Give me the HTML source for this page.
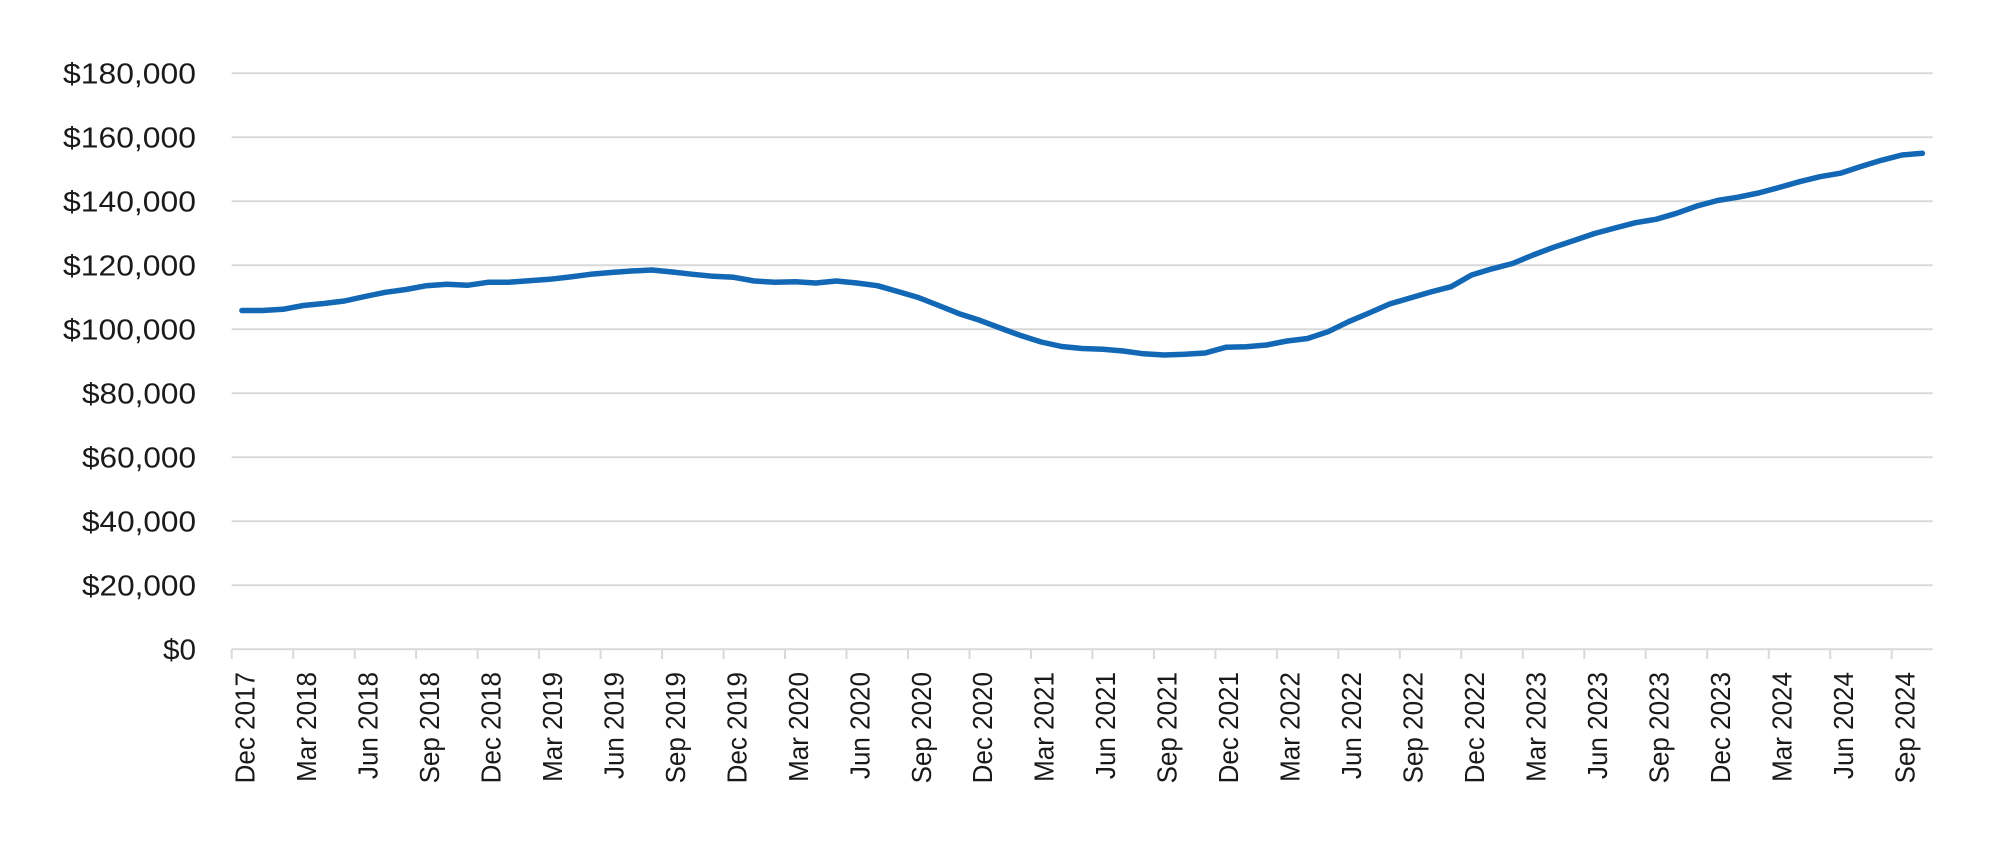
<!DOCTYPE html>
<html>
<head>
<meta charset="utf-8">
<style>
  html,body{margin:0;padding:0;background:#fff;}
  svg{display:block;}
  text{font-family:"Liberation Sans",Arial,sans-serif;fill:#1a1a1a;}
</style>
</head>
<body>
<svg width="2000" height="858" viewBox="0 0 2000 858" xmlns="http://www.w3.org/2000/svg">
  <rect width="2000" height="858" fill="#fff"/>
  <!-- gridlines -->
  <g stroke="#d9d9d9" stroke-width="2">
    <line x1="231.7" y1="73.3" x2="1932.7" y2="73.3"/>
    <line x1="231.7" y1="137.3" x2="1932.7" y2="137.3"/>
    <line x1="231.7" y1="201.3" x2="1932.7" y2="201.3"/>
    <line x1="231.7" y1="265.3" x2="1932.7" y2="265.3"/>
    <line x1="231.7" y1="329.3" x2="1932.7" y2="329.3"/>
    <line x1="231.7" y1="393.3" x2="1932.7" y2="393.3"/>
    <line x1="231.7" y1="457.3" x2="1932.7" y2="457.3"/>
    <line x1="231.7" y1="521.3" x2="1932.7" y2="521.3"/>
    <line x1="231.7" y1="585.3" x2="1932.7" y2="585.3"/>
    <line x1="231.7" y1="649.3" x2="1932.7" y2="649.3"/>
  </g>
  <!-- ticks -->
  <g stroke="#d9d9d9" stroke-width="2">
    <line x1="231.7" y1="649" x2="231.7" y2="659"/>
    <line x1="293.2" y1="649" x2="293.2" y2="659"/>
    <line x1="354.7" y1="649" x2="354.7" y2="659"/>
    <line x1="416.1" y1="649" x2="416.1" y2="659"/>
    <line x1="477.6" y1="649" x2="477.6" y2="659"/>
    <line x1="539.1" y1="649" x2="539.1" y2="659"/>
    <line x1="600.6" y1="649" x2="600.6" y2="659"/>
    <line x1="662.1" y1="649" x2="662.1" y2="659"/>
    <line x1="723.5" y1="649" x2="723.5" y2="659"/>
    <line x1="785.0" y1="649" x2="785.0" y2="659"/>
    <line x1="846.5" y1="649" x2="846.5" y2="659"/>
    <line x1="908.0" y1="649" x2="908.0" y2="659"/>
    <line x1="969.5" y1="649" x2="969.5" y2="659"/>
    <line x1="1030.9" y1="649" x2="1030.9" y2="659"/>
    <line x1="1092.4" y1="649" x2="1092.4" y2="659"/>
    <line x1="1153.9" y1="649" x2="1153.9" y2="659"/>
    <line x1="1215.4" y1="649" x2="1215.4" y2="659"/>
    <line x1="1276.9" y1="649" x2="1276.9" y2="659"/>
    <line x1="1338.3" y1="649" x2="1338.3" y2="659"/>
    <line x1="1399.8" y1="649" x2="1399.8" y2="659"/>
    <line x1="1461.3" y1="649" x2="1461.3" y2="659"/>
    <line x1="1522.8" y1="649" x2="1522.8" y2="659"/>
    <line x1="1584.3" y1="649" x2="1584.3" y2="659"/>
    <line x1="1645.7" y1="649" x2="1645.7" y2="659"/>
    <line x1="1707.2" y1="649" x2="1707.2" y2="659"/>
    <line x1="1768.7" y1="649" x2="1768.7" y2="659"/>
    <line x1="1830.2" y1="649" x2="1830.2" y2="659"/>
    <line x1="1891.7" y1="649" x2="1891.7" y2="659"/>
  </g>
  <!-- y labels -->
  <g font-size="29" text-anchor="end">
    <text x="196" y="83.6" textLength="133" lengthAdjust="spacingAndGlyphs">$180,000</text>
    <text x="196" y="147.6" textLength="133" lengthAdjust="spacingAndGlyphs">$160,000</text>
    <text x="196" y="211.6" textLength="133" lengthAdjust="spacingAndGlyphs">$140,000</text>
    <text x="196" y="275.6" textLength="133" lengthAdjust="spacingAndGlyphs">$120,000</text>
    <text x="196" y="339.6" textLength="133" lengthAdjust="spacingAndGlyphs">$100,000</text>
    <text x="196" y="403.6" textLength="114" lengthAdjust="spacingAndGlyphs">$80,000</text>
    <text x="196" y="467.6" textLength="114" lengthAdjust="spacingAndGlyphs">$60,000</text>
    <text x="196" y="531.6" textLength="114" lengthAdjust="spacingAndGlyphs">$40,000</text>
    <text x="196" y="595.6" textLength="114" lengthAdjust="spacingAndGlyphs">$20,000</text>
    <text x="196" y="659.6" textLength="33" lengthAdjust="spacingAndGlyphs">$0</text>
  </g>
  <!-- x labels -->
  <g font-size="28" text-anchor="end">
    <text transform="translate(254.4,672) rotate(-90) scale(0.93,1)">Dec 2017</text>
    <text transform="translate(315.9,672) rotate(-90) scale(0.93,1)">Mar 2018</text>
    <text transform="translate(377.4,672) rotate(-90) scale(0.93,1)">Jun 2018</text>
    <text transform="translate(438.9,672) rotate(-90) scale(0.93,1)">Sep 2018</text>
    <text transform="translate(500.4,672) rotate(-90) scale(0.93,1)">Dec 2018</text>
    <text transform="translate(561.9,672) rotate(-90) scale(0.93,1)">Mar 2019</text>
    <text transform="translate(623.3,672) rotate(-90) scale(0.93,1)">Jun 2019</text>
    <text transform="translate(684.8,672) rotate(-90) scale(0.93,1)">Sep 2019</text>
    <text transform="translate(746.3,672) rotate(-90) scale(0.93,1)">Dec 2019</text>
    <text transform="translate(807.8,672) rotate(-90) scale(0.93,1)">Mar 2020</text>
    <text transform="translate(869.3,672) rotate(-90) scale(0.93,1)">Jun 2020</text>
    <text transform="translate(930.8,672) rotate(-90) scale(0.93,1)">Sep 2020</text>
    <text transform="translate(992.2,672) rotate(-90) scale(0.93,1)">Dec 2020</text>
    <text transform="translate(1053.7,672) rotate(-90) scale(0.93,1)">Mar 2021</text>
    <text transform="translate(1115.2,672) rotate(-90) scale(0.93,1)">Jun 2021</text>
    <text transform="translate(1176.7,672) rotate(-90) scale(0.93,1)">Sep 2021</text>
    <text transform="translate(1238.2,672) rotate(-90) scale(0.93,1)">Dec 2021</text>
    <text transform="translate(1299.6,672) rotate(-90) scale(0.93,1)">Mar 2022</text>
    <text transform="translate(1361.1,672) rotate(-90) scale(0.93,1)">Jun 2022</text>
    <text transform="translate(1422.6,672) rotate(-90) scale(0.93,1)">Sep 2022</text>
    <text transform="translate(1484.1,672) rotate(-90) scale(0.93,1)">Dec 2022</text>
    <text transform="translate(1545.6,672) rotate(-90) scale(0.93,1)">Mar 2023</text>
    <text transform="translate(1607.0,672) rotate(-90) scale(0.93,1)">Jun 2023</text>
    <text transform="translate(1668.5,672) rotate(-90) scale(0.93,1)">Sep 2023</text>
    <text transform="translate(1730.0,672) rotate(-90) scale(0.93,1)">Dec 2023</text>
    <text transform="translate(1791.5,672) rotate(-90) scale(0.93,1)">Mar 2024</text>
    <text transform="translate(1853.0,672) rotate(-90) scale(0.93,1)">Jun 2024</text>
    <text transform="translate(1914.4,672) rotate(-90) scale(0.93,1)">Sep 2024</text>
  </g>
  <!-- series -->
  <polyline fill="none" stroke="#1368b6" stroke-width="5.5" stroke-linejoin="round" stroke-linecap="round"
    points="241.9,310.5 262.4,310.5 282.9,309.3 303.4,305.5 323.9,303.5 344.4,301 364.9,296.5 385.4,292.3 405.9,289.5 426.4,285.7 446.9,284.3 467.4,285.3 487.9,282.3 508.4,282.3 528.9,280.7 549.4,279.3 569.8,277 590.3,274.3 610.8,272.5 631.3,271 651.8,270 672.3,272 692.8,274.3 713.3,276.3 733.8,277.3 754.3,281 774.8,282.3 795.3,281.7 815.8,283 836.3,281 856.8,283 877.3,285.7 897.8,291.5 918.3,297.5 938.7,305.5 959.2,313.7 979.7,320.3 1000.2,328 1020.7,335.5 1041.2,342 1061.7,346.5 1082.2,348.5 1102.7,349.3 1123.2,351 1143.7,353.8 1164.2,355 1184.7,354.3 1205.2,353 1225.7,347.3 1246.2,346.7 1266.6,345 1287.1,341 1307.6,338.5 1328.1,331.7 1348.6,321.7 1369.1,313 1389.6,304 1410.1,298 1430.6,292 1451.1,286.7 1471.6,275 1492.1,268.8 1512.6,263.5 1533.1,255 1553.6,247.3 1574.0,240.5 1594.5,233.5 1615.0,228 1635.5,222.7 1656.0,219.3 1676.5,213.3 1697.0,206 1717.5,200.5 1738.0,197.2 1758.5,193 1779.0,187.5 1799.5,181.7 1820.0,176.7 1840.5,173.2 1860.9,166.5 1881.4,160.3 1901.9,155 1922.4,153.3"/>
</svg>
</body>
</html>
